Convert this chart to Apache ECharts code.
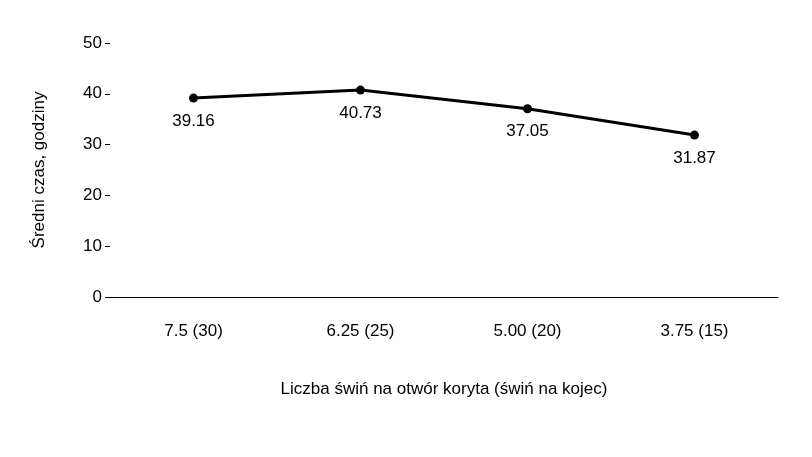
<!DOCTYPE html>
<html><head><meta charset="utf-8">
<script src="https://cdn.jsdelivr.net/npm/echarts@6/dist/echarts.min.js"></script>
<style>html,body{margin:0;padding:0;background:#fff}#c{width:812px;height:457px}</style>
</head><body><div id="c"></div>
<script>
const categories = ["7.5 (30)", "6.25 (25)", "5.00 (20)", "3.75 (15)"];
const values = [39.16, 40.73, 37.05, 31.87];
const chart = echarts.init(document.getElementById('c'));
const font = "Arial, 'Liberation Sans', sans-serif";
chart.setOption({
  animation: false,
  grid: {left: 110, right: 34, top: 43, bottom: 160},
  xAxis: {
    type: 'category', data: categories,
    name: 'Liczba świń na otwór koryta (świń na kojec)',
    nameLocation: 'middle', nameGap: 84,
    nameTextStyle: {color: '#000', fontSize: 17, fontFamily: font},
    axisLine: {lineStyle: {color: '#000', width: 1}},
    axisTick: {alignWithLabel: true, length: 6, lineStyle: {color: '#000'}},
    axisLabel: {color: '#000', fontSize: 17, fontFamily: font, margin: 26}
  },
  yAxis: {
    type: 'value', min: 0, max: 50, interval: 10,
    name: 'Średni czas, godziny', nameLocation: 'middle', nameGap: 62,
    nameTextStyle: {color: '#000', fontSize: 17, fontFamily: font},
    axisLine: {show: false},
    axisTick: {show: true, length: 5, lineStyle: {color: '#000'}},
    splitLine: {show: false},
    axisLabel: {color: '#000', fontSize: 17, fontFamily: font, margin: 8}
  },
  series: [{
    type: 'line', data: values,
    lineStyle: {color: '#000', width: 3},
    itemStyle: {color: '#000'},
    symbol: 'circle', symbolSize: 9,
    label: {show: true, position: 'bottom', distance: 10, color: '#000', fontSize: 17, fontFamily: font,
      formatter: p => p.value.toFixed(2)}
  }]
});
</script></body></html>
